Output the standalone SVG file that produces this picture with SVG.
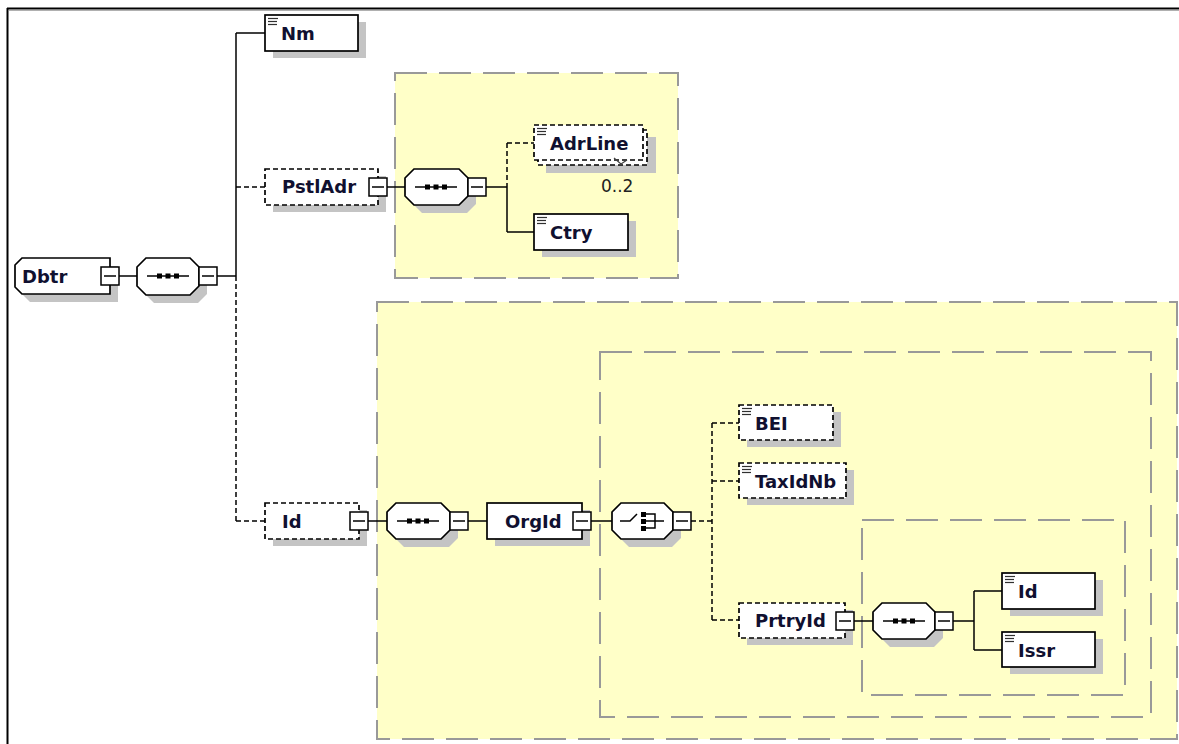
<svg xmlns="http://www.w3.org/2000/svg" width="1179" height="744" viewBox="0 0 1179 744">
<style>
.bg{fill:#ffffff}
.yel{fill:#ffffc8;stroke:#999999;stroke-width:2;stroke-dasharray:32 12}
.grp{fill:none;stroke:#999999;stroke-width:2;stroke-dasharray:32 12}
.sh{fill:#c4c4c4;stroke:none}
.el{fill:#ffffff;stroke:#000000;stroke-width:1.7}
.opt{fill:#ffffff;stroke:#000000;stroke-width:1.7;stroke-dasharray:5 3}
.mb{fill:#ffffff;stroke:#000000;stroke-width:1.5}
.ln{fill:none;stroke:#000000;stroke-width:1.5}
.dl{fill:none;stroke:#000000;stroke-width:1.5;stroke-dasharray:5 3}
.ic{fill:none;stroke:#303030;stroke-width:1.2}
.t{font-family:"DejaVu Sans",sans-serif;font-weight:bold;font-size:18px;fill:#101030}
.occ{font-family:"DejaVu Sans",sans-serif;font-size:17px;fill:#222222}
.dot{fill:#000000}
</style>
<defs>
<g id="minus"><rect class="mb" x="0" y="-9" width="18" height="18"/><line class="ln" x1="3" y1="0" x2="15" y2="0"/></g>
<g id="elicon"><line class="ic" x1="3" y1="3.5" x2="13" y2="3.5"/><line class="ic" x1="3" y1="6.5" x2="12" y2="6.5"/><line class="ic" x1="3" y1="9.5" x2="12" y2="9.5"/></g>
<g id="seqicon"><line class="ln" x1="-21" y1="0" x2="21" y2="0"/><rect class="dot" x="-11" y="-2.5" width="5" height="5"/><rect class="dot" x="-2.5" y="-2.5" width="5" height="5"/><rect class="dot" x="6" y="-2.5" width="5" height="5"/></g>
</defs>
<rect class="bg" x="0" y="0" width="1179" height="744"/>
<line x1="7" y1="8.5" x2="1179" y2="8.5" stroke="#000" stroke-width="2"/>
<line x1="9" y1="10.5" x2="1179" y2="10.5" stroke="#b0b0b0" stroke-width="1"/>
<line x1="7.5" y1="8" x2="7.5" y2="744" stroke="#000" stroke-width="2"/>

<g id="groups">
<rect class="yel" x="395" y="73" width="283" height="205"/>
<rect class="yel" x="377" y="302" width="800" height="437"/>
<rect class="grp" x="600" y="352" width="551" height="365"/>
<rect class="grp" x="862" y="520" width="263" height="175"/>
</g>

<g id="connectors">
<line class="ln" x1="119" y1="276" x2="137" y2="276"/>
<line class="ln" x1="217" y1="276" x2="236" y2="276"/>
<line class="dl" x1="236" y1="276" x2="236" y2="521"/>
<line class="ln" x1="236" y1="33" x2="236" y2="276"/>
<line class="ln" x1="236" y1="33" x2="265" y2="33"/>
<line class="dl" x1="236" y1="187" x2="265" y2="187"/>
<line class="dl" x1="236" y1="521" x2="265" y2="521"/>
<line class="ln" x1="387" y1="187" x2="405" y2="187"/>
<line class="ln" x1="486" y1="187" x2="507" y2="187"/>
<line class="dl" x1="507" y1="143" x2="507" y2="187"/>
<line class="ln" x1="507" y1="187" x2="507" y2="232"/>
<line class="dl" x1="507" y1="143" x2="534" y2="143"/>
<line class="ln" x1="507" y1="232" x2="534" y2="232"/>
<line class="ln" x1="368" y1="521" x2="387" y2="521"/>
<line class="ln" x1="468" y1="521" x2="487" y2="521"/>
<line class="ln" x1="591" y1="521" x2="612" y2="521"/>
<line class="dl" x1="691" y1="521" x2="712" y2="521"/>
<line class="dl" x1="712" y1="423" x2="712" y2="620"/>
<line class="dl" x1="712" y1="423" x2="739" y2="423"/>
<line class="dl" x1="712" y1="481" x2="739" y2="481"/>
<line class="dl" x1="712" y1="620" x2="739" y2="620"/>
<line class="ln" x1="854" y1="621" x2="873" y2="621"/>
<line class="ln" x1="953" y1="621" x2="974" y2="621"/>
<line class="ln" x1="974" y1="591" x2="974" y2="650"/>
<line class="ln" x1="974" y1="591" x2="1002" y2="591"/>
<line class="ln" x1="974" y1="650" x2="1002" y2="650"/>
</g>

<g id="node-Dbtr">
<polygon class="sh" points="30,266 118,266 118,302 30,302 23,295 23,273"/>
<polygon class="el" points="22,258 110,258 110,294 22,294 15,287 15,265"/>
<text class="t" x="22" y="283">Dbtr</text>
<use href="#minus" x="101" y="276"/>
</g>

<g id="node-seq1">
<polygon class="sh" points="154,266 198,266 207,275 207,294 198,303 154,303 145,294 145,275"/>
<polygon class="el" points="146,258 190,258 199,267 199,286 190,295 146,295 137,286 137,267"/>
<use href="#seqicon" x="168" y="276"/>
<use href="#minus" x="199" y="276"/>
</g>

<g id="node-Nm">
<rect class="sh" x="273" y="22" width="93" height="36"/>
<rect class="el" x="265" y="15" width="93" height="36"/>
<use href="#elicon" x="265" y="15"/>
<text class="t" x="281" y="40">Nm</text>
</g>

<g id="node-PstlAdr">
<rect class="sh" x="273" y="176" width="113" height="36"/>
<rect class="opt" x="265" y="169" width="113" height="36"/>
<text class="t" x="282" y="193">PstlAdr</text>
<use href="#minus" x="369" y="187"/>
</g>

<g id="node-seq2">
<polygon class="sh" points="422,176 467,176 476,185 476,204 467,213 422,213 413,204 413,185"/>
<polygon class="el" points="414,169 459,169 468,178 468,196 459,205 414,205 405,196 405,178"/>
<use href="#seqicon" x="436" y="187"/>
<use href="#minus" x="468" y="187"/>
</g>

<g id="node-AdrLine">
<rect class="sh" x="546" y="137" width="110" height="36"/>
<rect class="opt" x="538" y="130" width="109" height="35"/>
<rect class="opt" x="534" y="125" width="109" height="35"/>
<use href="#elicon" x="534" y="125"/>
<text class="t" x="550" y="150">AdrLine</text>
<path d="M614,158 L621,164 L627,160" fill="none" stroke="#404040" stroke-width="1.2"/>
<text class="occ" x="601" y="192">0..2</text>
</g>

<g id="node-Ctry">
<rect class="sh" x="542" y="221" width="94" height="36"/>
<rect class="el" x="534" y="214" width="94" height="36"/>
<use href="#elicon" x="534" y="214"/>
<text class="t" x="550" y="239">Ctry</text>
</g>

<g id="node-Id">
<rect class="sh" x="273" y="510" width="94" height="36"/>
<rect class="opt" x="265" y="503" width="94" height="36"/>
<text class="t" x="282" y="528">Id</text>
<use href="#minus" x="350" y="521"/>
</g>

<g id="node-seq3">
<polygon class="sh" points="404,510 449,510 458,519 458,538 449,547 404,547 395,538 395,519"/>
<polygon class="el" points="396,503 441,503 450,512 450,530 441,539 396,539 387,530 387,512"/>
<use href="#seqicon" x="418" y="521"/>
<use href="#minus" x="450" y="521"/>
</g>

<g id="node-OrgId">
<rect class="sh" x="495" y="510" width="95" height="36"/>
<rect class="el" x="487" y="503" width="95" height="36"/>
<text class="t" x="505" y="528">OrgId</text>
<use href="#minus" x="573" y="521"/>
</g>

<g id="node-choice">
<polygon class="sh" points="629,510 672,510 681,519 681,538 672,547 629,547 620,538 620,519"/>
<polygon class="el" points="621,503 664,503 673,512 673,530 664,539 621,539 612,530 612,512"/>
<path class="ln" d="M620,521 L630,521 L637,514"/>
<rect class="dot" x="641" y="512" width="5" height="5"/>
<rect class="dot" x="641" y="519" width="5" height="5"/>
<rect class="dot" x="641" y="526" width="5" height="5"/>
<path class="ln" d="M646,514 L655,514 L655,528 L646,528 M646,521 L664,521"/>
<use href="#minus" x="673" y="521"/>
</g>

<g id="node-BEI">
<rect class="sh" x="747" y="412" width="94" height="35"/>
<rect class="opt" x="739" y="405" width="94" height="35"/>
<use href="#elicon" x="739" y="405"/>
<text class="t" x="755" y="430">BEI</text>
</g>

<g id="node-TaxIdNb">
<rect class="sh" x="747" y="470" width="107" height="35"/>
<rect class="opt" x="739" y="463" width="107" height="35"/>
<use href="#elicon" x="739" y="463"/>
<text class="t" x="755" y="488">TaxIdNb</text>
</g>

<g id="node-PrtryId">
<rect class="sh" x="747" y="610" width="106" height="35"/>
<rect class="opt" x="739" y="603" width="106" height="35"/>
<text class="t" x="755" y="627">PrtryId</text>
<use href="#minus" x="836" y="621"/>
</g>

<g id="node-seq4">
<polygon class="sh" points="890,610 934,610 943,619 943,638 934,647 890,647 881,638 881,619"/>
<polygon class="el" points="882,603 926,603 935,612 935,630 926,639 882,639 873,630 873,612"/>
<use href="#seqicon" x="904" y="621"/>
<use href="#minus" x="935" y="621"/>
</g>

<g id="node-Id2">
<rect class="sh" x="1010" y="580" width="93" height="36"/>
<rect class="el" x="1002" y="573" width="93" height="36"/>
<use href="#elicon" x="1002" y="573"/>
<text class="t" x="1018" y="598">Id</text>
</g>

<g id="node-Issr">
<rect class="sh" x="1010" y="639" width="93" height="35"/>
<rect class="el" x="1002" y="632" width="93" height="35"/>
<use href="#elicon" x="1002" y="632"/>
<text class="t" x="1018" y="657">Issr</text>
</g>
</svg>
